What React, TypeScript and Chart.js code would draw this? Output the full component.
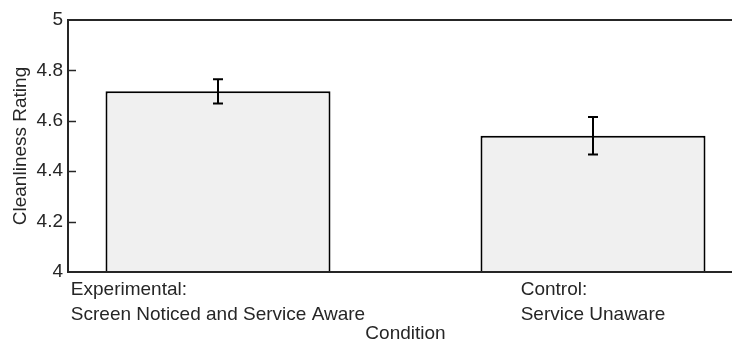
import { useEffect, useRef } from "react";
import { Chart, registerables } from "chart.js";

Chart.register(...registerables);

// Condition labels (each entry is drawn as stacked lines under its bar)
const conditionLabels: string[][] = [
  ["Experimental:", "Screen Noticed and Service Aware"],
  ["Control:", "Service Unaware"],
];
const conditionPositions = [1, 2];
const meanRatings = [4.717, 4.541];
const ratingErrors = [0.048, 0.0745];
const yTickValues = [4, 4.2, 4.4, 4.6, 4.8, 5];
const yTickLabels = ["4", "4.2", "4.4", "4.6", "4.8", "5"];

const FONT_FAMILY = '"Liberation Sans", Arial, Helvetica, sans-serif';
const TEXT_COLOR = "#262626";
const FONT_SIZE = 19;

const decorPlugin = {
  id: "decor",
  afterDatasetsDraw(chart: any) {
    const { ctx, chartArea: a, scales } = chart;
    const xs = scales.x;
    const ys = scales.y;
    ctx.save();

    // error bars
    ctx.strokeStyle = "#000";
    ctx.lineWidth = 2;
    meanRatings.forEach((m, i) => {
      const cx = Math.round(xs.getPixelForValue(conditionPositions[i]));
      const top = ys.getPixelForValue(m + ratingErrors[i]);
      const bot = ys.getPixelForValue(m - ratingErrors[i]);
      ctx.beginPath();
      ctx.moveTo(cx, top);
      ctx.lineTo(cx, bot);
      ctx.moveTo(cx - 5, top);
      ctx.lineTo(cx + 5, top);
      ctx.moveTo(cx - 5, bot);
      ctx.lineTo(cx + 5, bot);
      ctx.stroke();
    });

    // axes frame: top, left, bottom
    ctx.strokeStyle = TEXT_COLOR;
    ctx.lineWidth = 2;
    ctx.beginPath();
    ctx.moveTo(chart.width, a.top);
    ctx.lineTo(a.left, a.top);
    ctx.lineTo(a.left, a.bottom);
    ctx.lineTo(chart.width, a.bottom);
    ctx.stroke();

    // inward tick marks on the rating axis
    ctx.lineWidth = 1.5;
    yTickValues.slice(1, -1).forEach((v) => {
      const py = Math.round(ys.getPixelForValue(v)) + 0.5;
      ctx.beginPath();
      ctx.moveTo(a.left, py);
      ctx.lineTo(a.left + 8, py);
      ctx.stroke();
    });

    // condition labels: block centred under each bar, lines left-aligned
    ctx.fillStyle = TEXT_COLOR;
    ctx.font = `${FONT_SIZE}px ${FONT_FAMILY}`;
    ctx.textAlign = "left";
    ctx.textBaseline = "alphabetic";
    conditionLabels.forEach((lines, i) => {
      const cx = xs.getPixelForValue(conditionPositions[i]);
      const w = Math.max(...lines.map((t) => ctx.measureText(t).width));
      const left = cx - w / 2;
      lines.forEach((t, j) => {
        ctx.fillText(t, left, a.bottom + 22.5 + j * 25);
      });
    });

    ctx.restore();
  },
};

export default function App() {
  const canvasRef = useRef<HTMLCanvasElement | null>(null);

  useEffect(() => {
    const canvas = canvasRef.current;
    if (!canvas) return;
    const chart = new Chart(canvas, {
      type: "bar",
      data: {
        datasets: [
          {
            data: meanRatings.map((m, i) => ({ x: conditionPositions[i], y: m })),
            backgroundColor: "#f0f0f0",
            borderColor: "#000",
            borderWidth: 2,
            barPercentage: 0.6,
            categoryPercentage: 1,
          },
        ],
      },
      options: {
        responsive: false,
        animation: false,
        devicePixelRatio: 1,
        layout: { padding: { left: 0, right: 17, top: 20, bottom: 0 } },
        plugins: {
          legend: { display: false },
          tooltip: { enabled: false },
        },
        scales: {
          x: {
            type: "linear",
            min: 0.6,
            max: 2.4,
            offset: false,
            grid: { display: false, drawTicks: false, offset: false },
            border: { display: false },
            ticks: { display: false },
            afterBuildTicks: (scale: any) => {
              scale.ticks = conditionPositions.map((v) => ({ value: v }));
            },
            title: {
              display: true,
              text: "Condition",
              color: TEXT_COLOR,
              font: { family: FONT_FAMILY, size: FONT_SIZE, lineHeight: 1 },
              padding: { top: 0, bottom: 0 },
            },
            afterFit: (scale: any) => {
              scale.height = 71;
            },
          },
          y: {
            type: "linear",
            min: 4,
            max: 5,
            grid: { display: false, drawTicks: false },
            border: { display: false },
            afterBuildTicks: (scale: any) => {
              scale.ticks = yTickValues.map((v) => ({ value: v }));
            },
            ticks: {
              color: TEXT_COLOR,
              padding: 5,
              font: { family: FONT_FAMILY, size: FONT_SIZE },
              callback: (_v: any, i: number) => yTickLabels[i],
            },
            title: {
              display: true,
              text: "Cleanliness Rating",
              color: TEXT_COLOR,
              font: { family: FONT_FAMILY, size: FONT_SIZE },
              padding: { top: 9, bottom: 0 },
            },
            afterFit: (scale: any) => {
              scale.width = 68;
            },
          },
        },
      },
      plugins: [decorPlugin],
    });
    return () => chart.destroy();
  }, []);

  return (
    <div
      style={{
        position: "fixed",
        left: 0,
        top: 0,
        width: 732,
        height: 343,
        overflow: "hidden",
        background: "#fff",
      }}
    >
      <canvas ref={canvasRef} width={760} height={343} style={{ display: "block" }} />
    </div>
  );
}
